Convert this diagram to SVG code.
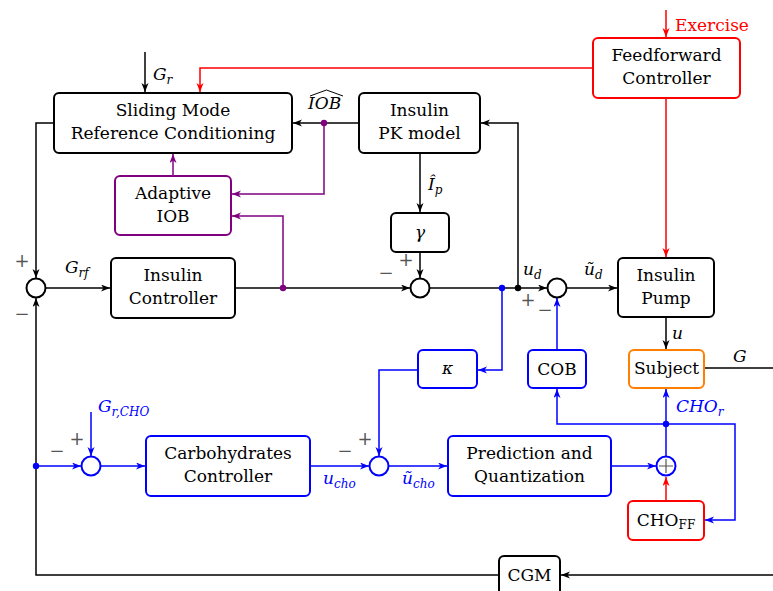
<svg xmlns="http://www.w3.org/2000/svg" width="773" height="591" viewBox="0 0 773 591">
<style>
.box{fill:#fff;stroke-width:2;}
.k{stroke:#000}.r{stroke:#ff0000}.b{stroke:#0000ff}.p{stroke:#800080}.o{stroke:#ff8000}
.t{font-family:"DejaVu Serif",serif;font-size:17px;fill:#000;text-anchor:middle}
.m{font-family:"DejaVu Serif",serif;font-size:17px;font-style:italic}
.s{font-family:"DejaVu Serif",serif;font-size:18px;fill:#555;text-anchor:middle}
.ln{fill:none;stroke-width:1.5}
.sum{fill:#fff;stroke-width:2}
</style>
<defs>
<marker id="ak" markerWidth="10" markerHeight="8" refX="9" refY="3.5" orient="auto" markerUnits="userSpaceOnUse"><path d="M0,0 L9,3.5 L0,7 L2.5,3.5 Z" fill="#000"/></marker>
<marker id="ar" markerWidth="10" markerHeight="8" refX="9" refY="3.5" orient="auto" markerUnits="userSpaceOnUse"><path d="M0,0 L9,3.5 L0,7 L2.5,3.5 Z" fill="#ff0000"/></marker>
<marker id="ab" markerWidth="10" markerHeight="8" refX="9" refY="3.5" orient="auto" markerUnits="userSpaceOnUse"><path d="M0,0 L9,3.5 L0,7 L2.5,3.5 Z" fill="#0000ff"/></marker>
<marker id="ap" markerWidth="10" markerHeight="8" refX="9" refY="3.5" orient="auto" markerUnits="userSpaceOnUse"><path d="M0,0 L9,3.5 L0,7 L2.5,3.5 Z" fill="#800080"/></marker>
</defs>

<g id="connectors">
<g class="ln k">
<path d="M145,52 V92" marker-end="url(#ak)"/>
<path d="M359,123 H293" marker-end="url(#ak)"/>
<path d="M54,123 H36 V278" marker-end="url(#ak)"/>
<path d="M46,288 H110" marker-end="url(#ak)"/>
<path d="M235,288 H410" marker-end="url(#ak)"/>
<path d="M420,153 V212" marker-end="url(#ak)"/>
<path d="M420,252 V278" marker-end="url(#ak)"/>
<path d="M430,288 H547" marker-end="url(#ak)"/>
<path d="M518,288 V123 H481" marker-end="url(#ak)"/>
<path d="M567,288 H617" marker-end="url(#ak)"/>
<path d="M666,317 V349" marker-end="url(#ak)"/>
<path d="M704,368 H790 V575 H561" marker-end="url(#ak)"/>
<path d="M499,575 H36 V298" marker-end="url(#ak)"/>
</g>
<g class="ln r">
<path d="M666,10 V37" marker-end="url(#ar)"/>
<path d="M593,68 H200 V92" marker-end="url(#ar)"/>
<path d="M666,98 V257" marker-end="url(#ar)"/>
<path d="M666,501 V477" marker-end="url(#ar)"/>
</g>
<g class="ln p">
<path d="M324,123 V194 H232" marker-end="url(#ap)"/>
<path d="M283,288 V216 H232" marker-end="url(#ap)"/>
<path d="M173,176 V154" marker-end="url(#ap)"/>
</g>
<g class="ln b">
<path d="M502,288 V370 H478" marker-end="url(#ab)"/>
<path d="M418,370 H379 V456" marker-end="url(#ab)"/>
<path d="M36,466 H81" marker-end="url(#ab)"/>
<path d="M91,412 V456" marker-end="url(#ab)"/>
<path d="M101,466 H145" marker-end="url(#ab)"/>
<path d="M310,466 H369" marker-end="url(#ab)"/>
<path d="M389,466 H447" marker-end="url(#ab)"/>
<path d="M611,466 H656" marker-end="url(#ab)"/>
<path d="M666,456 V389" marker-end="url(#ab)"/>
<path d="M666,424 H557 V389" marker-end="url(#ab)"/>
<path d="M557,350 V298" marker-end="url(#ab)"/>
<path d="M666,424 H735 V520 H705" marker-end="url(#ab)"/>
</g>
<circle cx="518" cy="288" r="3.2" fill="#000"/>
<circle cx="502" cy="288" r="3.2" fill="#0000ff"/>
<circle cx="324" cy="123" r="3.2" fill="#800080"/>
<circle cx="283" cy="288" r="3.2" fill="#800080"/>
<circle cx="36" cy="466" r="3.2" fill="#0000ff"/>
<circle cx="666" cy="424" r="3.2" fill="#0000ff"/>
</g>

<g id="sliding-mode">
<rect class="box k" x="54" y="93" width="238" height="60" rx="5"/>
<text class="t" x="173" y="116">Sliding Mode</text>
<text class="t" x="173" y="139">Reference Conditioning</text>
</g>
<g id="pk-model">
<rect class="box k" x="359" y="93" width="121" height="60" rx="5"/>
<text class="t" x="419.5" y="116">Insulin</text>
<text class="t" x="419.5" y="139">PK model</text>
</g>
<g id="feedforward">
<rect class="box r" x="593" y="38" width="147" height="60" rx="5"/>
<text class="t" x="666.5" y="61">Feedforward</text>
<text class="t" x="666.5" y="84">Controller</text>
</g>
<g id="adaptive-iob">
<rect class="box p" x="115" y="176" width="116" height="59" rx="5"/>
<text class="t" x="173" y="199">Adaptive</text>
<text class="t" x="173" y="222">IOB</text>
</g>
<g id="gamma">
<rect class="box k" x="391" y="213" width="58" height="39" rx="5"/>
<text class="m" x="420" y="238" text-anchor="middle">γ</text>
</g>
<g id="insulin-controller">
<rect class="box k" x="111" y="258" width="124" height="60" rx="5"/>
<text class="t" x="173" y="281">Insulin</text>
<text class="t" x="173" y="304">Controller</text>
</g>
<g id="insulin-pump">
<rect class="box k" x="618" y="258" width="96" height="59" rx="5"/>
<text class="t" x="666" y="281">Insulin</text>
<text class="t" x="666" y="304">Pump</text>
</g>
<g id="kappa">
<rect class="box b" x="418" y="350" width="59" height="38" rx="5"/>
<text class="m" x="447.5" y="374" text-anchor="middle">κ</text>
</g>
<g id="cob">
<rect class="box b" x="528" y="350" width="58" height="38" rx="5"/>
<text class="t" x="557" y="375">COB</text>
</g>
<g id="subject">
<rect class="box o" x="629" y="350" width="75" height="38" rx="5"/>
<text class="t" x="666.5" y="374">Subject</text>
</g>
<g id="carb-controller">
<rect class="box b" x="146" y="436" width="164" height="60" rx="5"/>
<text class="t" x="228" y="459">Carbohydrates</text>
<text class="t" x="228" y="482">Controller</text>
</g>
<g id="prediction">
<rect class="box b" x="448" y="436" width="163" height="60" rx="5"/>
<text class="t" x="529.5" y="459">Prediction and</text>
<text class="t" x="529.5" y="482">Quantization</text>
</g>
<g id="cho-ff">
<rect class="box r" x="628" y="501" width="76" height="39" rx="5"/>
<text class="t" x="666" y="526">CHO<tspan font-size="12" dy="3">FF</tspan></text>
</g>
<g id="cgm">
<rect class="box k" x="499" y="556" width="61" height="40" rx="5"/>
<text class="t" x="529.5" y="581">CGM</text>
</g>

<g id="sum1"><circle class="sum k" cx="36" cy="288" r="9.5"/></g>
<g id="sum2"><circle class="sum k" cx="420" cy="288" r="9.5"/></g>
<g id="sum3"><circle class="sum k" cx="557" cy="288" r="9.5"/></g>
<g id="sum5"><circle class="sum b" cx="91" cy="466" r="9.5"/></g>
<g id="sum6"><circle class="sum b" cx="379" cy="466" r="9.5"/></g>
<g id="oplus"><circle class="sum b" cx="666" cy="466" r="9.5"/><path d="M666,459 V473 M659,466 H673" stroke="#555" stroke-width="1.2"/></g>

<g id="signs">
<text class="s" x="22" y="267">+</text>
<text class="s" x="22" y="320">−</text>
<text class="s" x="386" y="279">−</text>
<text class="s" x="406" y="266">+</text>
<text class="s" x="528" y="306">+</text>
<text class="s" x="545" y="316">−</text>
<text class="s" x="57" y="457">−</text>
<text class="s" x="77" y="445">+</text>
<text class="s" x="345" y="457">−</text>
<text class="s" x="365" y="445">+</text>
</g>

<g id="labels">
<text class="m" x="153" y="80">G<tspan font-size="12" dy="4">r</tspan></text>
<text class="m" x="308" y="109">IOB</text>
<path d="M310,96 L326.5,90 L343,96" fill="none" stroke="#000" stroke-width="1"/>
<text class="m" x="428" y="190">Î<tspan font-size="12" dy="4">p</tspan></text>
<text class="m" x="65" y="273">G<tspan font-size="12" dy="4">rf</tspan></text>
<text class="m" x="523" y="275">u<tspan font-size="12" dy="4">d</tspan></text>
<text class="m" x="584" y="275">ũ<tspan font-size="12" dy="4">d</tspan></text>
<text class="m" x="672" y="339">u</text>
<text class="m" x="733" y="362">G</text>
<text class="m" x="676" y="412" fill="#0000ff">CHO<tspan font-size="12" dy="4">r</tspan></text>
<text class="m" x="98" y="412" fill="#0000ff">G<tspan font-size="12" dy="4">r,CHO</tspan></text>
<text class="m" x="323" y="484" fill="#0000ff">u<tspan font-size="12" dy="4">cho</tspan></text>
<text class="m" x="402" y="484" fill="#0000ff">ũ<tspan font-size="12" dy="4">cho</tspan></text>
<text x="675" y="31" font-family="DejaVu Serif, serif" font-size="17" fill="#ff0000">Exercise</text>
</g>
</svg>
